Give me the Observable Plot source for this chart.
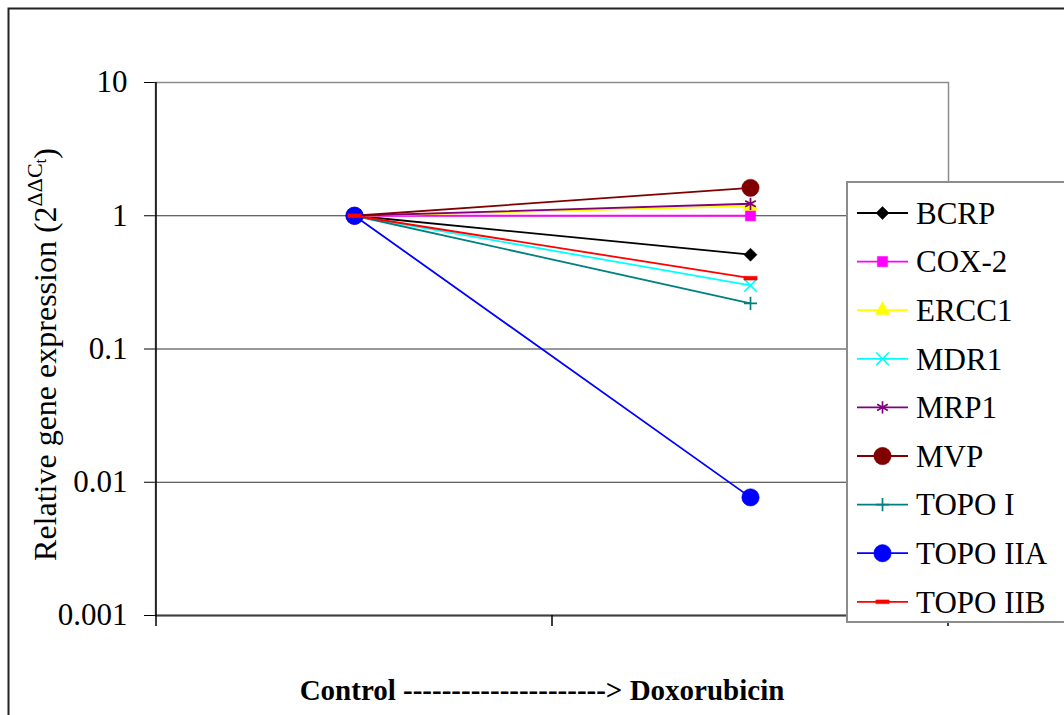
<!DOCTYPE html>
<html>
<head>
<meta charset="utf-8">
<script src="https://cdn.jsdelivr.net/npm/d3@7"></script>
<script src="https://cdn.jsdelivr.net/npm/@observablehq/plot@0.6"></script>
<style>
  html, body { margin: 0; padding: 0; background: #fff; }
  #chart svg { display: block; }
</style>
</head>
<body>
<div id="chart"></div>
<script>
// Relative expression of resistance-related genes, control vs doxorubicin
const conditions = ["Control", "Doxorubicin"];
const genes = ["BCRP", "COX-2", "ERCC1", "MDR1", "MRP1", "MVP", "TOPO I", "TOPO IIA", "TOPO IIB"];
const controlExpr = [1, 1, 1, 1, 1, 1, 1, 1, 1];
const doxorubicinExpr = [0.51, 1.0, 1.18, 0.30, 1.23, 1.62, 0.22, 0.0077, 0.34];
const yTicks = [0.001, 0.01, 0.1, 1, 10];
const yTickLabels = ["0.001", "0.01", "0.1", "1", "10"];
const xAxisTitle = "Control ---------------------> Doxorubicin";

// Series colours (Excel default palette)
const geneColors = ["#000000", "#FF00FF", "#FFFF00", "#00FFFF", "#800080", "#800000", "#008080", "#0000FF", "#FF0000"];

// Short horizontal bar marker
const symbolDash = {
  draw(ctx, size) {
    const s = Math.sqrt(size);
    const hw = s * 0.85, hh = s * 0.24;
    ctx.moveTo(-hw, -hh); ctx.lineTo(hw, -hh); ctx.lineTo(hw, hh); ctx.lineTo(-hw, hh); ctx.closePath();
  }
};

// Marker styling for each series, in the same order as genes
const markerStyles = [
  {symbol: d3.symbolSquare, r: 5.2, filled: true, rotate: 45},
  {symbol: d3.symbolSquare, r: 5.8, filled: true},
  {symbol: d3.symbolTriangle, r: 5.4, filled: true},
  {symbol: d3.symbolTimes || d3.symbolCross, r: 5.8, filled: false},
  {symbol: d3.symbolAsterisk || d3.symbolStar, r: 5.8, filled: false},
  {symbol: d3.symbolCircle, r: 8.7, filled: true},
  {symbol: d3.symbolPlus || d3.symbolCross, r: 4.3, filled: false},
  {symbol: d3.symbolCircle, r: 8.7, filled: true},
  {symbol: symbolDash, r: 4.4, filled: true}
];

const rows = genes.flatMap((gene, i) => [
  {gene, condition: conditions[0], value: controlExpr[i]},
  {gene, condition: conditions[1], value: doxorubicinExpr[i]}
]);

const seriesMarks = genes.flatMap((gene, i) => {
  const data = rows.filter(d => d.gene === gene);
  const m = markerStyles[i];
  const color = geneColors[i];
  return [
    Plot.line(data, {x: "condition", y: "value", stroke: color, strokeWidth: 1.8}),
    Plot.dot(data, {
      x: "condition", y: "value", symbol: m.symbol, r: m.r, rotate: m.rotate || 0,
      fill: m.filled ? color : "none", stroke: color, strokeWidth: m.filled ? 0.5 : 1.7
    })
  ];
});

const serif = "'Liberation Serif', 'Times New Roman', serif";

const chart = Plot.plot({
  width: 1064,
  height: 715,
  marginLeft: 155,
  marginRight: 116,
  marginTop: 82,
  marginBottom: 100,
  style: {
    fontFamily: serif,
    fontSize: "31px",
    color: "#000",
    background: "#fff",
    overflow: "visible"
  },
  x: {type: "point", domain: conditions, padding: 0.5, axis: null},
  y: {
    type: "log",
    domain: [0.001, 10],
    ticks: yTicks,
    tickFormat: d => {
      const k = yTicks.indexOf(d);
      return k >= 0 ? yTickLabels[k] : String(d);
    },
    tickSize: 11,
    tickPadding: 17,
    label: null
  },
  marks: [
    Plot.frame({stroke: "#8c8c8c", strokeWidth: 1.5}),
    Plot.ruleY(yTicks.filter(v => v > 0.001 && v < 10), {stroke: "#333", strokeWidth: 1}),
    Plot.ruleY([0.001], {stroke: "#404040", strokeWidth: 2}),
    ...seriesMarks
  ]
});

document.getElementById("chart").appendChild(chart);

// Axis lines, category ticks, titles and legend, placed from the plot's scales
const svg = d3.select(chart);
const xs = chart.scale("x");
const ys = chart.scale("y");
const p0 = xs.apply(conditions[0]);
const p1 = xs.apply(conditions[1]);
const step = p1 - p0;
const plotLeft = p0 - step / 2;
const plotRight = p1 + step / 2;
const plotTop = ys.apply(10);
const plotBottom = ys.apply(0.001);

// Outer chart border
svg.append("rect")
  .attr("x", 8.5).attr("y", 8.5).attr("width", 2000).attr("height", 2000)
  .attr("fill", "none").attr("stroke", "#222").attr("stroke-width", 2);

// Left axis line
svg.append("line")
  .attr("x1", plotLeft).attr("x2", plotLeft).attr("y1", plotTop).attr("y2", plotBottom + 1)
  .attr("stroke", "#000").attr("stroke-width", 1.5);

// Category boundary ticks on the x axis
svg.append("g").selectAll("line")
  .data([plotLeft, p0 + step / 2, plotRight])
  .join("line")
  .attr("x1", d => d).attr("x2", d => d)
  .attr("y1", plotBottom).attr("y2", plotBottom + 11)
  .attr("stroke", "#000").attr("stroke-width", 1.5);

// x-axis title
svg.append("text")
  .attr("x", (plotLeft + plotRight) / 2 - 10)
  .attr("y", plotBottom + 85)
  .attr("text-anchor", "middle")
  .attr("font-family", serif)
  .attr("font-weight", "bold")
  .attr("font-size", 29)
  .attr("fill", "#000")
  .text(xAxisTitle);

// y-axis title with superscript exponent
const yTitle = svg.append("text")
  .attr("transform", `translate(56, ${(plotTop + plotBottom) / 2 + 6}) rotate(-90)`)
  .attr("text-anchor", "middle")
  .attr("font-family", serif)
  .attr("font-size", 32)
  .attr("fill", "#000");
yTitle.append("tspan").text("Relative gene expression (2");
yTitle.append("tspan").attr("dy", -14).attr("font-size", 22).text("ΔΔC");
yTitle.append("tspan").attr("dy", 4).attr("font-size", 17).text("t");
yTitle.append("tspan").attr("dy", 10).text(")");

// Legend
const legendX = 847, legendY = 182, legendH = 440, rowY0 = 213, rowStep = 48.6;
const legend = svg.append("g").attr("text-anchor", "start");
legend.append("rect")
  .attr("x", legendX).attr("y", legendY).attr("width", 400).attr("height", legendH)
  .attr("fill", "#fff").attr("stroke", "#8c8c8c").attr("stroke-width", 2);
genes.forEach((gene, i) => {
  const y = rowY0 + i * rowStep;
  const m = markerStyles[i];
  const color = geneColors[i];
  const row = legend.append("g");
  row.append("line")
    .attr("x1", legendX + 10).attr("x2", legendX + 61).attr("y1", y).attr("y2", y)
    .attr("stroke", color).attr("stroke-width", 1.8);
  row.append("path")
    .attr("d", d3.symbol(m.symbol, Math.PI * m.r * m.r)())
    .attr("transform", `translate(${legendX + 35.5}, ${y}) rotate(${m.rotate || 0})`)
    .attr("fill", m.filled ? color : "none")
    .attr("stroke", color)
    .attr("stroke-width", m.filled ? 0.5 : 1.7);
  row.append("text")
    .attr("x", legendX + 69).attr("y", y).attr("dy", "0.35em")
    .attr("text-anchor", "start")
    .attr("font-family", serif)
    .attr("font-size", 31).attr("fill", "#000")
    .text(gene);
});
</script>
</body>
</html>
